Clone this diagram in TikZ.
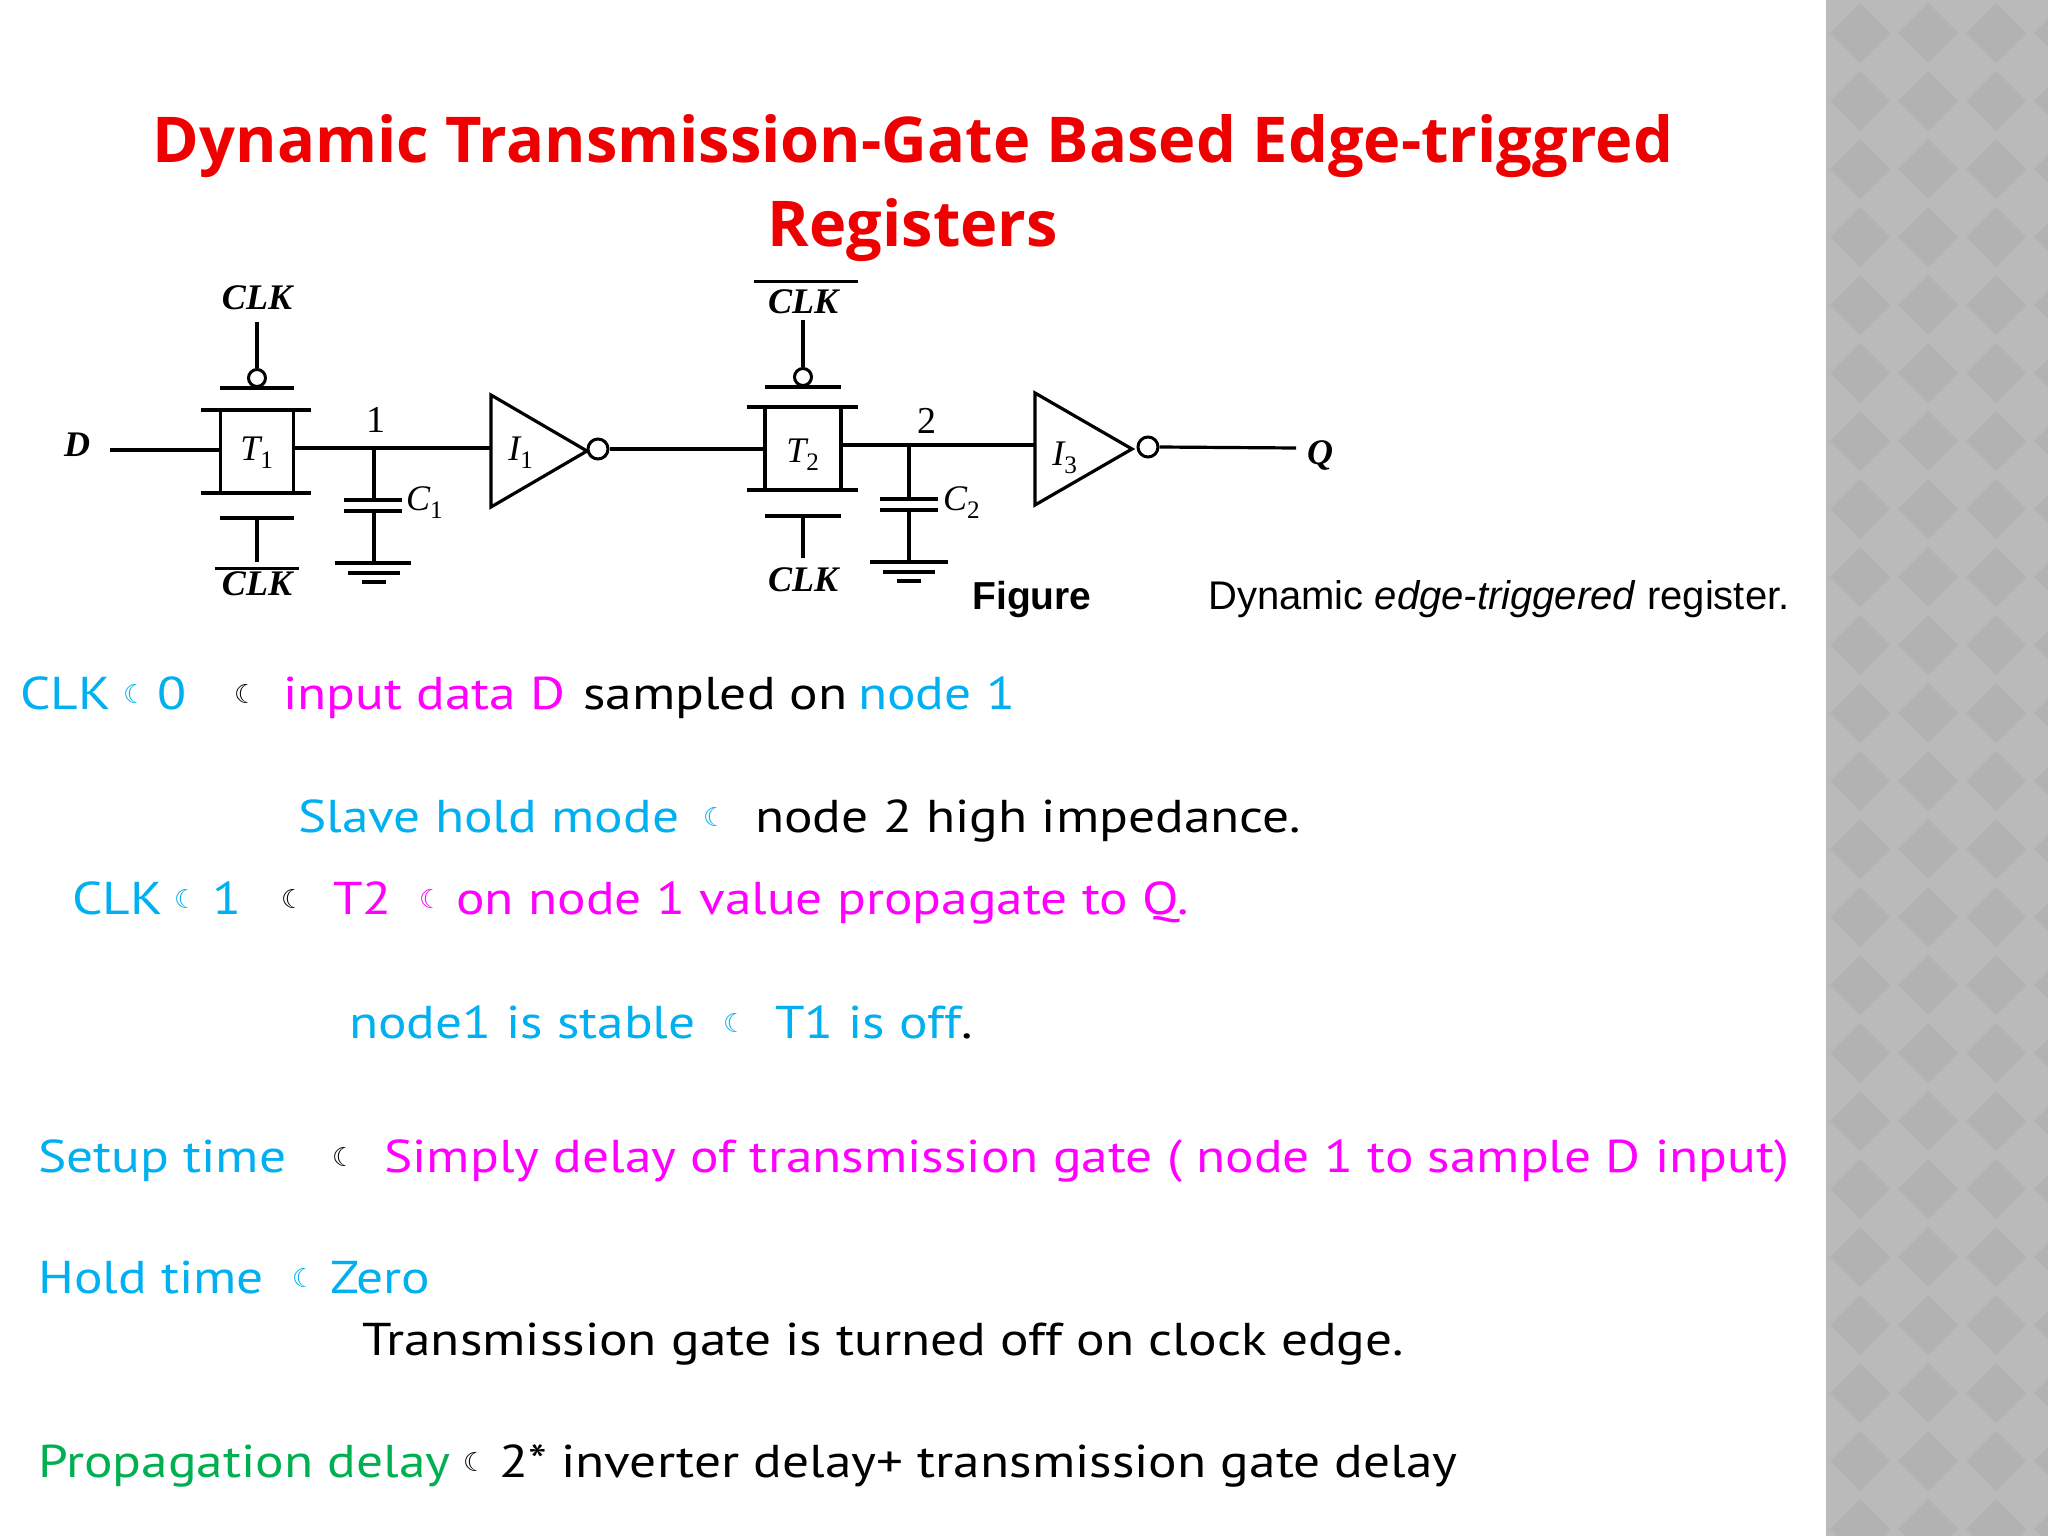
\documentclass[tikz,border=0pt]{standalone}
\usepackage{fontspec}
\setmainfont{PT Sans}
\newfontfamily\titlefont{Open Sans}
\newfontfamily\circfont{Liberation Serif}
\newfontfamily\capfont{Liberation Sans}
\newfontfamily\moonfont{DejaVu Sans}
\definecolor{cy}{RGB}{0,176,240}
\definecolor{mg}{RGB}{255,0,255}
\definecolor{gr}{RGB}{0,176,80}
\definecolor{tred}{RGB}{238,0,0}
\definecolor{strip}{RGB}{186,186,186}
\definecolor{diam}{RGB}{178,178,178}
\newcommand{\mn}{{\moonfont\fontsize{26}{28}\selectfont ☾}}
\newcommand{\hs}[1]{\scalebox{1.16}[1]{#1}}
\tikzset{
  wire/.style={line width=3.2pt},
  txt/.style={anchor=base west, inner sep=0pt, font=\fontsize{46}{50}\selectfont},
  clab/.style={inner sep=0pt, font=\circfont\itshape\bfseries\fontsize{36}{40}\selectfont},
  bub/.style={circle, draw, line width=3pt, minimum size=17pt, inner sep=0pt}
}
\begin{document}
\begin{tikzpicture}[x=1pt,y=-1pt]
\useasboundingbox (0,0) rectangle (2048,1536);
\fill[white] (0,0) rectangle (2048,1536);
% right strip
\fill[strip] (1826,0) rectangle (2048,1536);
\begin{scope}
\clip (1828,0) rectangle (2048,1536);
\foreach \i in {0,...,3}{\foreach \j in {0,...,23}{
  \fill[diam] ({1860+68*\i},{33+68*\j-30}) -- ({1860+68*\i+30},{33+68*\j}) -- ({1860+68*\i},{33+68*\j+30}) -- ({1860+68*\i-30},{33+68*\j}) -- cycle;
}}
\end{scope}
% title
\node[inner sep=0pt, anchor=base, text=tred] (t1) at (913,163) {\resizebox{1520pt}{!}{\titlefont\bfseries\fontsize{60}{64}\selectfont Dynamic Transmission-Gate Based Edge-triggred}};
\node[inner sep=0pt, anchor=base, text=tred] (t2) at (913,246) {\resizebox{290pt}{!}{\titlefont\bfseries\fontsize{60}{64}\selectfont Registers}};
% ---- circuit ----
\node[clab] (dl) at (77,445) {D};
\coordinate (din) at (110,450);
% T1
\node[draw, wire, minimum width=73pt, minimum height=83pt, inner sep=0pt] (T1) at (257,451) {};
\node[clab, font=\circfont\itshape\fontsize{36}{40}\selectfont] at (257,453) {T\textsubscript{\upshape 1}};
\draw[wire] (201,410) -- (311,410); \draw[wire] (201,493) -- (311,493);
\draw[wire] (220,388) -- (294,388);
\node[bub] (b1) at (257,378) {};
\draw[wire] (b1.north) -- (257,322);
\node[clab] (clk1) at (257,298) {CLK};
\draw[wire] (220,518) -- (294,518);
\draw[wire] (257,518) -- (257,562);
\node[clab] (clk2) at (257,584) {CLK};
\draw[line width=3pt] (215,568) -- (299,568);
\draw[wire] (din) -- (T1.west |- din);
% node 1
\coordinate (n1) at (374,448);
\draw[wire] (T1.east |- n1) -- (n1);
\node[clab, font=\circfont\fontsize{38}{40}\selectfont] at (376,420) {1};
\draw[wire] (n1) -- (374,500); \draw[wire] (344,500) -- (402,500);
\draw[wire] (344,511) -- (402,511); \draw[wire] (374,511) -- (374,563);
\draw[wire] (335,563) -- (411,563); \draw[wire] (348,573) -- (400,573); \draw[wire] (362,582) -- (386,582);
\node[clab, font=\circfont\itshape\fontsize{36}{40}\selectfont, anchor=west] at (406,503) {C\textsubscript{\upshape 1}};
% I1
\draw[wire, line join=miter] (491,395) -- (587,451) -- (491,507) -- cycle;
\node[clab, font=\circfont\itshape\fontsize{36}{40}\selectfont] at (521,453) {I\textsubscript{\upshape 1}};
\node[bub, minimum size=20pt] (bi1) at (598,449) {};
\draw[wire] (n1) -- (491,448);
% T2
\node[draw, wire, minimum width=76pt, minimum height=83pt, inner sep=0pt] (T2) at (803,448) {};
\node[clab, font=\circfont\itshape\fontsize{36}{40}\selectfont] at (803,455) {T\textsubscript{\upshape 2}};
\draw[wire] (bi1.east) -- (T2.west |- bi1.east);
\draw[wire] (747,407) -- (858,407); \draw[wire] (747,490) -- (858,490);
\draw[wire] (765,387) -- (841,387);
\node[bub] (b2) at (803,377) {};
\draw[wire] (b2.north) -- (803,320);
\node[clab] (clk3) at (803,302) {CLK};
\draw[line width=3pt] (754,281) -- (858,281);
\draw[wire] (765,516) -- (841,516);
\draw[wire] (803,516) -- (803,558);
\node[clab] (clk4) at (803,580) {CLK};
% node 2
\coordinate (n2) at (909,445);
\draw[wire] (T2.east |- n2) -- (n2);
\node[clab, font=\circfont\fontsize{38}{40}\selectfont] at (927,421) {2};
\draw[wire] (n2) -- (909,499); \draw[wire] (880,499) -- (938,499);
\draw[wire] (880,510) -- (938,510); \draw[wire] (909,510) -- (909,562);
\draw[wire] (870,562) -- (948,562); \draw[wire] (883,572) -- (935,572); \draw[wire] (897,581) -- (921,581);
\node[clab, font=\circfont\itshape\fontsize{36}{40}\selectfont, anchor=west] at (943,503) {C\textsubscript{\upshape 2}};
% I3
\draw[wire, line join=miter] (1035,393) -- (1132,449) -- (1035,505) -- cycle;
\node[clab, font=\circfont\itshape\fontsize{36}{40}\selectfont] at (1065,458) {I\textsubscript{\upshape 3}};
\draw[wire] (n2) -- (1035,445);
\node[bub, minimum size=20pt] (bi3) at (1148,447) {};
\coordinate (qend) at (1296,448);
\draw[wire] (bi3.east) -- (qend);
\node[clab] (ql) at (1320,455) {Q};
% caption
\node[inner sep=0pt, anchor=base] (fig) at (1032,609) {\capfont\bfseries\fontsize{39}{42}\selectfont Figure};
\node[inner sep=0pt, anchor=base west] (cap) at (1208,609) {\capfont\fontsize{40}{42}\selectfont Dynamic \textit{edge-triggered} register.};
% ---- text ----
\node[txt, text=cy] at (20,709) {\hs{CLK}};
\node[txt, text=cy] at (123,703) {\mn};
\node[txt, text=cy] at (157,709) {\hs{0}};
\node[txt] at (234,703) {\mn};
\node[txt, text=mg] at (283,709) {\hs{input data D}};
\node[txt] at (583,709) {\hs{sampled on}};
\node[txt, text=cy] at (858,709) {\hs{node 1}};

\node[txt, text=cy] at (298,832) {\hs{Slave hold mode}};
\node[txt, text=cy] at (703,826) {\mn};
\node[txt] at (755,832) {\hs{node 2 high impedance.}};

\node[txt, text=cy] at (72,914) {\hs{CLK}};
\node[txt, text=cy] at (174,908) {\mn};
\node[txt, text=cy] at (212,914) {\hs{1}};
\node[txt] at (281,908) {\mn};
\node[txt, text=mg] at (333,914) {\hs{T2}};
\node[txt, text=mg] at (419,908) {\mn};
\node[txt, text=mg] at (456,914) {\hs{on node 1 value propagate to Q.}};

\node[txt, text=cy] at (349,1038) {\hs{node1 is stable}};
\node[txt, text=cy] at (723,1032) {\mn};
\node[txt] at (775,1038) {\hs{\textcolor{cy}{T1 is off}.}};

\node[txt, text=cy] at (38,1172) {\hs{Setup time}};
\node[txt] at (332,1166) {\mn};
\node[txt, text=mg] at (384,1172) {\hs{Simply delay of transmission gate ( node 1 to sample D input)}};

\node[txt, text=cy] at (38,1293) {\hs{Hold time}};
\node[txt, text=cy] at (292,1287) {\mn};
\node[txt, text=cy] at (330,1293) {\hs{Zero}};

\node[txt] at (362,1355) {\hs{Transmission gate is turned off on clock edge.}};

\node[txt, text=gr] at (38,1477) {\hs{Propagation delay}};
\node[txt] at (463,1471) {\mn};
\node[txt] at (499,1477) {\hs{2* inverter delay+ transmission gate delay}};
\end{tikzpicture}
\end{document}
